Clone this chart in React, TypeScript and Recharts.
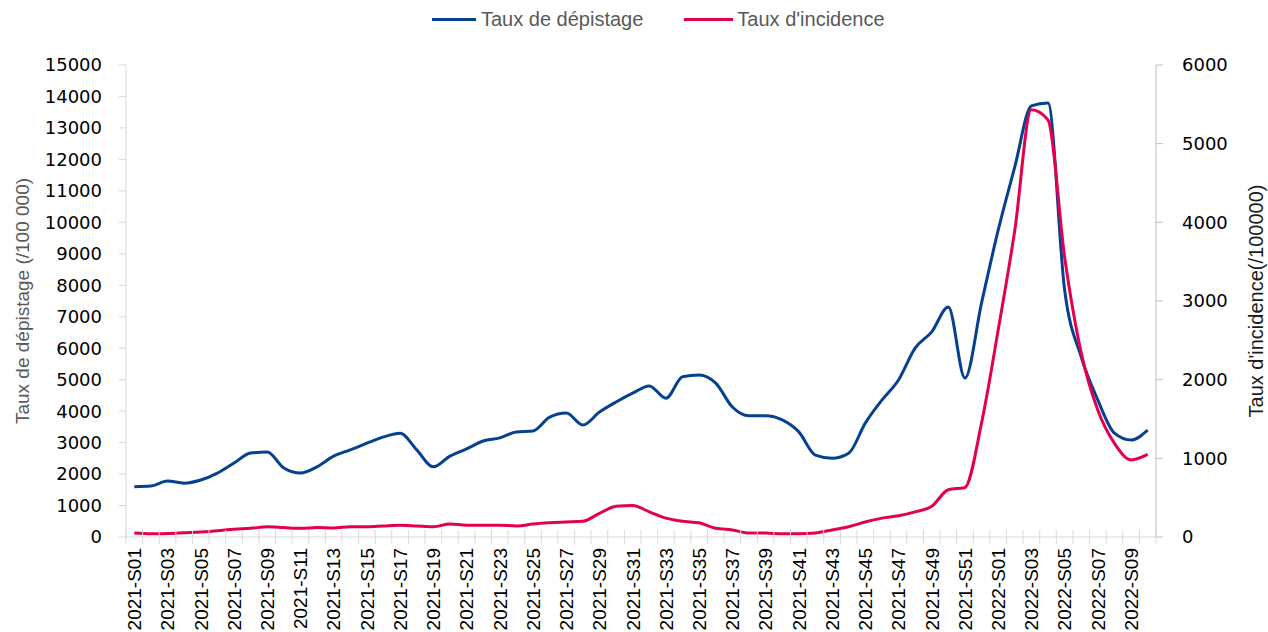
import React from "react";
import { LineChart, Line, XAxis, YAxis, Legend } from "recharts";

const weeks = [
  "2021-S01", "2021-S02", "2021-S03", "2021-S04", "2021-S05", "2021-S06", "2021-S07", "2021-S08",
  "2021-S09", "2021-S10", "2021-S11", "2021-S12", "2021-S13", "2021-S14", "2021-S15", "2021-S16",
  "2021-S17", "2021-S18", "2021-S19", "2021-S20", "2021-S21", "2021-S22", "2021-S23", "2021-S24",
  "2021-S25", "2021-S26", "2021-S27", "2021-S28", "2021-S29", "2021-S30", "2021-S31", "2021-S32",
  "2021-S33", "2021-S34", "2021-S35", "2021-S36", "2021-S37", "2021-S38", "2021-S39", "2021-S40",
  "2021-S41", "2021-S42", "2021-S43", "2021-S44", "2021-S45", "2021-S46", "2021-S47", "2021-S48",
  "2021-S49", "2021-S50", "2021-S51", "2021-S52", "2022-S01", "2022-S02", "2022-S03", "2022-S04",
  "2022-S05", "2022-S06", "2022-S07", "2022-S08", "2022-S09", "2022-S10",
];

// Taux de dépistage (left axis)
const depistage = [
  1600, 1620, 1780, 1710, 1810, 2030, 2350, 2670, 2700, 2190, 2030, 2230, 2570,
  2770, 2980, 3180, 3300, 2770, 2230, 2570, 2800, 3050, 3150, 3340, 3370,
  3810, 3940, 3560, 3970, 4290, 4570, 4800, 4410, 5090, 5150, 4890, 4130, 3850,
  3850, 3720, 3340, 2600, 2500, 2660, 3620, 4350, 4990, 6000, 6520, 7310,
  5050, 7440, 9750, 11760, 13700, 13790, 7850, 5720, 4350, 3300, 3080, 3400,
];

// Taux d'incidence (right axis)
const incidence = [
  50, 40, 45, 55, 65, 80, 100, 110, 130, 120,
  110, 120, 115, 130, 130, 140, 150, 140, 130, 165,
  150, 150, 150, 140, 165, 180, 190, 200, 300, 390,
  400, 320, 240, 200, 180, 110, 90, 50, 50, 40,
  40, 50, 90, 130, 190, 240, 270, 320, 390, 600,
  630, 1450, 2630, 3900, 5430, 5300, 3560, 2340, 1610, 1190, 980, 1050,
];

const leftTicks = [0, 1000, 2000, 3000, 4000, 5000, 6000, 7000, 8000, 9000, 10000, 11000, 12000, 13000, 14000, 15000];
const rightTicks = [0, 1000, 2000, 3000, 4000, 5000, 6000];

const data = weeks.map((week, i) => ({
  week,
  depistage: depistage[i],
  incidence: incidence[i],
}));

const W = 1268;
const H = 632;
const TOP = 65;
const LEFT_W = 126;
const RIGHT_W = 112;
const X_H = 95;
const PLOT_W = W - LEFT_W - RIGHT_W;
const PLOT_H = H - TOP - X_H;
const BAND = PLOT_W / weeks.length;

const BLUE = "#06418F";
const RED = "#E2004F";
const AXIS = "#D9D9D9";

const XTick = (props: any) => {
  const { x, payload, index } = props;
  const axisY = TOP + PLOT_H;
  const half = BAND / 2;
  const ly = axisY + 11;
  return (
    <g>
      <line x1={x - half} x2={x - half} y1={axisY - 7} y2={axisY + 7} stroke={AXIS} />
      {index === weeks.length - 1 && (
        <line x1={x + half} x2={x + half} y1={axisY - 7} y2={axisY + 7} stroke={AXIS} />
      )}
      {index % 2 === 0 && (
        <text
          x={x}
          y={ly}
          dy="0.36em"
          textAnchor="end"
          transform={`rotate(-90 ${x} ${ly})`}
          fill="#000"
          fontSize={19}
          fontFamily="'Liberation Sans', Arial, sans-serif"
        >
          {payload.value}
        </text>
      )}
    </g>
  );
};

const LegendContent = () => (
  <div
    style={{
      display: "flex",
      alignItems: "center",
      marginLeft: 432,
      fontFamily: "'Liberation Sans', Arial, sans-serif",
      fontSize: 20,
      color: "#595959",
      lineHeight: "24px",
    }}
  >
    <span style={{ display: "inline-block", width: 44, height: 3, background: BLUE, marginRight: 5 }} />
    <span>Taux de dépistage</span>
    <span style={{ display: "inline-block", width: 49, height: 3, background: RED, marginLeft: 41, marginRight: 4 }} />
    <span>Taux d'incidence</span>
  </div>
);

export default function App() {
  return (
    <div style={{ position: "absolute", left: 0, top: 0 }}>
      <LineChart width={W} height={H} data={data} margin={{ top: TOP, right: 0, bottom: 0, left: 0 }}>
        <XAxis
          dataKey="week"
          interval={0}
          height={X_H}
          tick={<XTick />}
          tickLine={false}
          axisLine={{ stroke: AXIS }}
          padding={{ left: BAND / 2, right: BAND / 2 }}
        />
        <YAxis
          yAxisId="left"
          width={LEFT_W}
          domain={[0, 15000]}
          ticks={leftTicks}
          interval={0}
          tickSize={7}
          tickMargin={17}
          tickLine={{ stroke: AXIS }}
          axisLine={{ stroke: AXIS }}
          tick={{ fill: "#000", fontSize: 18, fontFamily: "'DejaVu Sans', sans-serif" }}
          label={{
            content: (p: any) => {
              const vb = p.viewBox;
              const cx = vb.x + 22;
              const cy = vb.y + vb.height / 2;
              return (
                <text
                  x={cx}
                  y={cy}
                  textAnchor="middle"
                  dy="0.36em"
                  transform={`rotate(-90 ${cx} ${cy})`}
                  fill="#595959"
                  fontSize={19}
                  fontFamily="'Liberation Sans', Arial, sans-serif"
                >
                  Taux de dépistage (/100 000)
                </text>
              );
            },
          }}
        />
        <YAxis
          yAxisId="right"
          orientation="right"
          width={RIGHT_W}
          domain={[0, 6000]}
          ticks={rightTicks}
          interval={0}
          tickSize={7}
          tickMargin={19}
          tickLine={{ stroke: "#BFBFBF" }}
          axisLine={{ stroke: "#BFBFBF" }}
          tick={{ fill: "#000", fontSize: 18, fontFamily: "'DejaVu Sans', sans-serif" }}
          label={{
            content: (p: any) => {
              const vb = p.viewBox;
              const cx = vb.x + 100;
              const cy = vb.y + vb.height / 2;
              return (
                <text
                  x={cx}
                  y={cy}
                  textAnchor="middle"
                  dy="0.36em"
                  transform={`rotate(-90 ${cx} ${cy})`}
                  fill="#1a1a1a"
                  fontSize={20}
                  fontFamily="'Liberation Sans', Arial, sans-serif"
                >
                  Taux d'incidence(/100000)
                </text>
              );
            },
          }}
        />
        <Legend
          verticalAlign="middle"
          align="center"
          content={<LegendContent />}
          wrapperStyle={{ top: 7, left: 0, width: W }}
        />
        <Line
          yAxisId="left"
          type="monotone"
          dataKey="depistage"
          name="Taux de dépistage"
          stroke={BLUE}
          strokeWidth={3}
          dot={false}
          isAnimationActive={false}
        />
        <Line
          yAxisId="right"
          type="monotone"
          dataKey="incidence"
          name="Taux d'incidence"
          stroke={RED}
          strokeWidth={3}
          dot={false}
          isAnimationActive={false}
        />
      </LineChart>
    </div>
  );
}
